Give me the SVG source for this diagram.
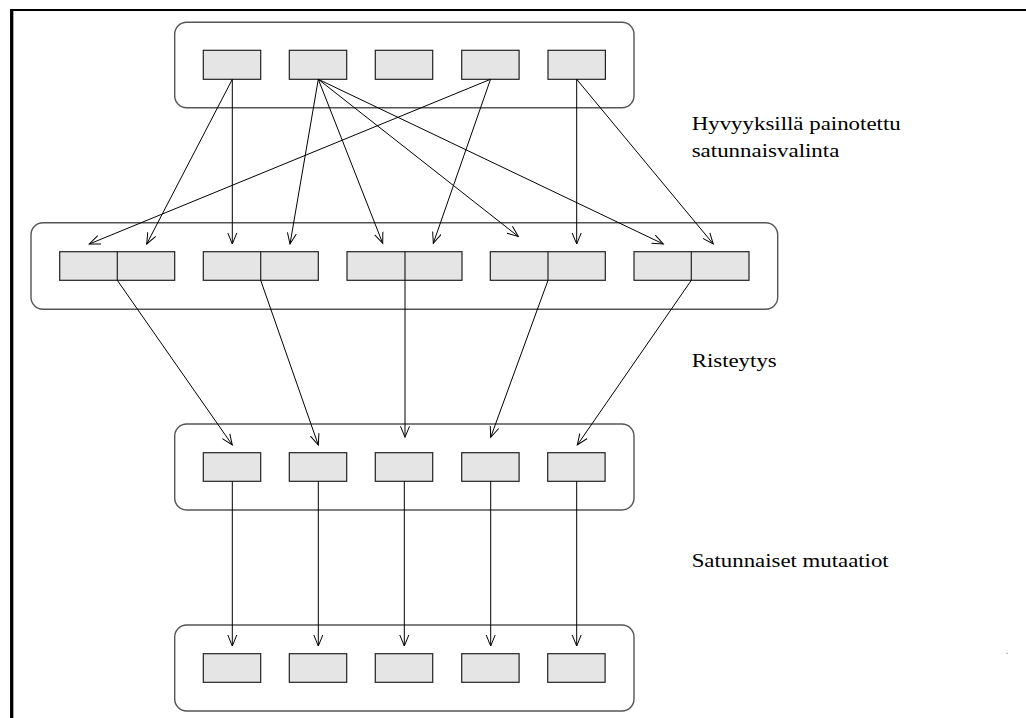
<svg xmlns="http://www.w3.org/2000/svg" width="1026" height="718" viewBox="0 0 1026 718">
<style>
.grp{fill:#fff;stroke:#555;stroke-width:1.4}
.cell{fill:#e5e5e5;stroke:#222;stroke-width:1.2}
.div{stroke:#222;stroke-width:1.2}
.edge{fill:none;stroke:#000;stroke-width:1}
.lbl{font-size:19px;fill:#000}
</style>
<defs>
<marker id="ah" markerUnits="userSpaceOnUse" markerWidth="14" markerHeight="12" refX="11" refY="5" orient="auto" viewBox="0 0 14 10">
<path d="M0,0.5 L11,5 L0,9.5" fill="none" stroke="#000" stroke-width="1"/>
</marker>
</defs>
<rect x="0" y="0" width="1026" height="718" fill="#fff"/>
<g id="frame">
<line x1="11.7" y1="718" x2="11.7" y2="9" stroke="#000" stroke-width="3.3"/>
<line x1="10" y1="10" x2="1026" y2="10" stroke="#000" stroke-width="2"/>
</g>
<g id="population1">
<rect class="grp" x="174.7" y="22.3" width="459.3" height="85.4" rx="12"/>
<rect id="p1-1" class="cell" x="203.3" y="50.3" width="57.4" height="29"/>
<rect id="p1-2" class="cell" x="289.3" y="50.3" width="57.4" height="29"/>
<rect id="p1-3" class="cell" x="375.3" y="50.3" width="57.4" height="29"/>
<rect id="p1-4" class="cell" x="461.7" y="50.3" width="57.4" height="29"/>
<rect id="p1-5" class="cell" x="548" y="50.3" width="57.4" height="29"/>
</g>
<g id="pairs">
<rect class="grp" x="31" y="222.7" width="746.7" height="86.6" rx="12"/>
<g id="pair1"><rect class="cell" x="59.7" y="251.7" width="115" height="28.6"/><line class="div" x1="117.3" y1="251.7" x2="117.3" y2="280.3"/></g>
<g id="pair2"><rect class="cell" x="203.3" y="251.7" width="115" height="28.6"/><line class="div" x1="260.7" y1="251.7" x2="260.7" y2="280.3"/></g>
<g id="pair3"><rect class="cell" x="347" y="251.7" width="115" height="28.6"/><line class="div" x1="405" y1="251.7" x2="405" y2="280.3"/></g>
<g id="pair4"><rect class="cell" x="490.3" y="251.7" width="115" height="28.6"/><line class="div" x1="548" y1="251.7" x2="548" y2="280.3"/></g>
<g id="pair5"><rect class="cell" x="634" y="251.7" width="115" height="28.6"/><line class="div" x1="691.3" y1="251.7" x2="691.3" y2="280.3"/></g>
</g>
<g id="offspring">
<rect class="grp" x="174.7" y="424" width="459.3" height="86" rx="12"/>
<rect id="o-1" class="cell" x="203.3" y="452.7" width="57.4" height="28.6"/>
<rect id="o-2" class="cell" x="289.3" y="452.7" width="57.4" height="28.6"/>
<rect id="o-3" class="cell" x="375.3" y="452.7" width="57.4" height="28.6"/>
<rect id="o-4" class="cell" x="461.7" y="452.7" width="57.4" height="28.6"/>
<rect id="o-5" class="cell" x="547.7" y="452.7" width="57.4" height="28.6"/>
</g>
<g id="population2">
<rect class="grp" x="174.7" y="625" width="459.3" height="86" rx="12"/>
<rect id="p2-1" class="cell" x="203.3" y="653.7" width="57.4" height="28.6"/>
<rect id="p2-2" class="cell" x="289.3" y="653.7" width="57.4" height="28.6"/>
<rect id="p2-3" class="cell" x="375.3" y="653.7" width="57.4" height="28.6"/>
<rect id="p2-4" class="cell" x="461.7" y="653.7" width="57.4" height="28.6"/>
<rect id="p2-5" class="cell" x="547.7" y="653.7" width="57.4" height="28.6"/>
</g>
<g id="connectors">
<line class="edge" x1="232.3" y1="79.3" x2="146.7" y2="244" marker-end="url(#ah)"/>
<line class="edge" x1="232.3" y1="79.3" x2="232.3" y2="244" marker-end="url(#ah)"/>
<line class="edge" x1="318.3" y1="79.3" x2="290" y2="244" marker-end="url(#ah)"/>
<line class="edge" x1="318.3" y1="79.3" x2="382.7" y2="243.3" marker-end="url(#ah)"/>
<line class="edge" x1="318.3" y1="79.3" x2="518.3" y2="236.5" marker-end="url(#ah)"/>
<line class="edge" x1="318.3" y1="79.3" x2="663.3" y2="244" marker-end="url(#ah)"/>
<line class="edge" x1="490.5" y1="79.3" x2="89.3" y2="244" marker-end="url(#ah)"/>
<line class="edge" x1="490.5" y1="79.3" x2="433.3" y2="243.3" marker-end="url(#ah)"/>
<line class="edge" x1="576.7" y1="79.3" x2="576.7" y2="244" marker-end="url(#ah)"/>
<line class="edge" x1="576.7" y1="79.3" x2="713.3" y2="244" marker-end="url(#ah)"/>
<line class="edge" x1="117.3" y1="280.3" x2="232.3" y2="445" marker-end="url(#ah)"/>
<line class="edge" x1="260.7" y1="280.3" x2="318.3" y2="445" marker-end="url(#ah)"/>
<line class="edge" x1="405" y1="280.3" x2="405" y2="437.3" marker-end="url(#ah)"/>
<line class="edge" x1="548" y1="280.3" x2="490.7" y2="437.3" marker-end="url(#ah)"/>
<line class="edge" x1="691.3" y1="280.3" x2="577.3" y2="445" marker-end="url(#ah)"/>
<line class="edge" x1="232.3" y1="481.3" x2="232.3" y2="646" marker-end="url(#ah)"/>
<line class="edge" x1="318.3" y1="481.3" x2="318.3" y2="646" marker-end="url(#ah)"/>
<line class="edge" x1="404.3" y1="481.3" x2="404.3" y2="646" marker-end="url(#ah)"/>
<line class="edge" x1="490.7" y1="481.3" x2="490.7" y2="646" marker-end="url(#ah)"/>
<line class="edge" x1="576.7" y1="481.3" x2="576.7" y2="646" marker-end="url(#ah)"/>
</g>
<g id="labels" font-family="'Liberation Serif', 'Times New Roman', serif">
<text class="lbl" x="691.7" y="130" textLength="209" lengthAdjust="spacingAndGlyphs">Hyvyyksillä painotettu</text>
<text class="lbl" x="691.7" y="156.7" textLength="147.7" lengthAdjust="spacingAndGlyphs">satunnaisvalinta</text>
<text class="lbl" x="691.7" y="366.7" textLength="85" lengthAdjust="spacingAndGlyphs">Risteytys</text>
<text class="lbl" x="691.7" y="566.7" textLength="197" lengthAdjust="spacingAndGlyphs">Satunnaiset mutaatiot</text>
</g>
<rect x="1006.5" y="652.8" width="1.2" height="1.2" fill="#999"/>
</svg>
